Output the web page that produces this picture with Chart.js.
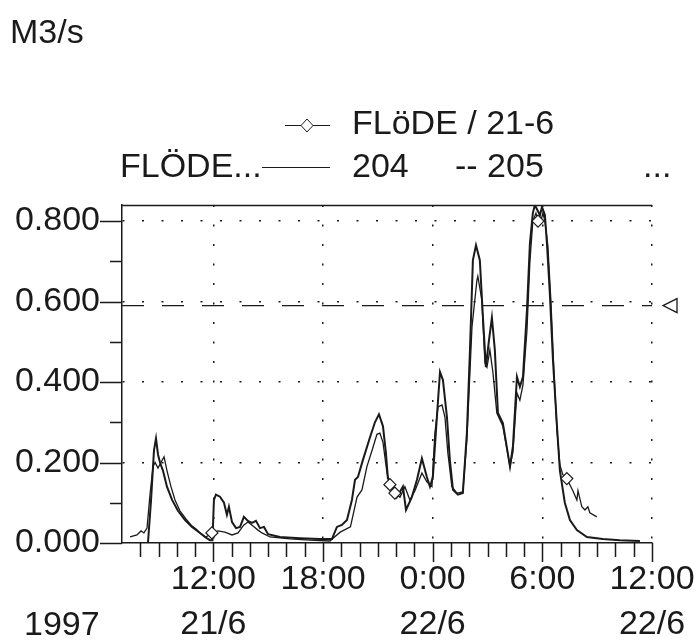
<!DOCTYPE html>
<html>
<head>
<meta charset="utf-8">
<script src="https://cdn.jsdelivr.net/npm/chart.js@4.4.1/dist/chart.umd.min.js"></script>
<style>
  body { margin: 0; background: #fff; }
  canvas { display: block; }
</style>
</head>
<body>
<canvas id="flow" width="700" height="643"></canvas>
<script>
// hours counted from 0:00 21/6 1997
const hoursD = [7.44, 7.82, 8.04, 8.20, 8.37, 8.53, 8.70, 8.81, 8.97, 9.13, 9.30, 9.46, 9.68, 9.90, 10.17, 10.50, 10.83, 11.05, 11.27, 11.60,
  11.92, 12.25, 12.63, 13.02, 13.35, 13.67, 13.89, 14.17, 14.44, 14.66, 15.10, 16.19, 17.28, 18.38, 18.55, 18.94, 19.50, 19.86, 20.13, 20.40,
  20.68, 20.95, 21.11, 21.28, 21.50, 21.66, 21.82, 21.93, 22.21, 22.48, 22.75, 23.03, 23.41, 23.68, 23.96, 24.12, 24.29, 24.51, 24.67, 24.83,
  25.05, 25.33, 25.65, 25.87, 26.15, 26.42, 26.47, 26.69, 26.86, 26.97, 27.13, 27.30, 27.51, 27.84, 28.23, 28.39, 28.61, 28.77, 28.94, 29.16,
  29.32, 29.48, 29.65, 29.76, 29.92, 30.03, 30.14, 30.30, 30.47, 30.63, 30.80, 30.96, 31.12, 31.34, 31.67, 31.89, 31.95, 32.16, 32.33, 32.49,
  32.60, 32.98];
const flowD = [0.015, 0.02, 0.03, 0.025, 0.037, 0.12, 0.19, 0.20, 0.186, 0.20, 0.214, 0.18, 0.14, 0.107, 0.08, 0.06, 0.042, 0.035, 0.025, 0.015,
  0.025, 0.03, 0.027, 0.02, 0.025, 0.045, 0.052, 0.042, 0.032, 0.025, 0.015, 0.01, 0.007, 0.005, 0.012, 0.027, 0.04, 0.114, 0.132, 0.19,
  0.23, 0.27, 0.273, 0.25, 0.174, 0.145, 0.14, 0.124, 0.114, 0.14, 0.107, 0.13, 0.174, 0.152, 0.14, 0.273, 0.338, 0.343, 0.313, 0.224,
  0.14, 0.124, 0.127, 0.256, 0.537, 0.653, 0.663, 0.604, 0.447, 0.437, 0.48, 0.422, 0.323, 0.29, 0.19, 0.226, 0.373, 0.355, 0.393, 0.53,
  0.70, 0.80, 0.82, 0.80, 0.80, 0.82, 0.80, 0.74, 0.60, 0.43, 0.28, 0.194, 0.17, 0.16, 0.13, 0.107, 0.13, 0.09, 0.082, 0.09,
  0.075, 0.065];
const diamondHours = [11.92, 21.66, 21.93, 29.76, 31.34];

const hours204 = [8.42, 8.59, 8.75, 8.86, 8.97, 9.08, 9.24, 9.46, 9.74, 10.06, 10.45, 10.83, 11.27, 11.54, 11.81, 11.95, 12.03, 12.14, 12.36, 12.58,
  12.74, 12.85, 13.02, 13.24, 13.46, 13.67, 13.89, 14.11, 14.33, 14.55, 14.77, 14.99, 15.64, 16.74, 17.83, 18.49, 18.76, 19.03, 19.31, 19.58,
  19.75, 19.91, 20.18, 20.57, 20.84, 21.06, 21.28, 21.44, 21.55, 21.77, 22.04, 22.37, 22.54, 22.86, 23.14, 23.41, 23.68, 23.85, 24.01, 24.23,
  24.40, 24.56, 24.78, 24.94, 25.11, 25.38, 25.65, 25.87, 26.04, 26.20, 26.37, 26.58, 26.75, 26.91, 27.08, 27.24, 27.40, 27.57, 27.84, 28.23,
  28.39, 28.61, 28.77, 28.94, 29.16, 29.32, 29.48, 29.59, 29.70, 29.87, 29.98, 30.14, 30.25, 30.41, 30.58, 30.80, 30.96, 31.23, 31.51, 31.89,
  32.44, 33.31, 34.24, 35.34];
const flow204 = [0, 0.107, 0.23, 0.26, 0.22, 0.20, 0.18, 0.14, 0.107, 0.08, 0.057, 0.04, 0.025, 0.015, 0.007, 0.007, 0.107, 0.12, 0.115, 0.10,
  0.07, 0.09, 0.052, 0.037, 0.04, 0.065, 0.055, 0.05, 0.055, 0.037, 0.04, 0.022, 0.015, 0.012, 0.01, 0.01, 0.04, 0.045, 0.057, 0.107,
  0.157, 0.164, 0.206, 0.263, 0.30, 0.32, 0.29, 0.224, 0.16, 0.15, 0.114, 0.14, 0.082, 0.114, 0.157, 0.21, 0.164, 0.14, 0.164, 0.313,
  0.425, 0.405, 0.313, 0.206, 0.132, 0.12, 0.124, 0.273, 0.48, 0.703, 0.74, 0.703, 0.56, 0.437, 0.504, 0.56, 0.48, 0.323, 0.298, 0.19,
  0.24, 0.413, 0.388, 0.413, 0.58, 0.745, 0.82, 0.84, 0.83, 0.815, 0.835, 0.815, 0.745, 0.62, 0.455, 0.29, 0.18, 0.10, 0.057, 0.032,
  0.015, 0.01, 0.007, 0.005];

const level205 = 0.59;
const timeRange = [7, 36];

const tickHours = [12, 18, 24, 30, 36];
const tickTimes = ["12:00", "18:00", "0:00", "6:00", "12:00"];
const tickDates = ["21/6", "", "22/6", "", "22/6"];

const FONT = "Liberation Sans, Arial, sans-serif";
const INK = "#1a1a1a";

const toPoints = (xs, ys) => xs.map((h, i) => ({ x: h, y: ys[i] }));

// axis tick marks, border, legend and the loose texts of the plot
const decor = {
  id: "decor",
  afterDraw(chart) {
    const { ctx, chartArea: a, scales } = chart;
    const x = scales.x, y = scales.y;
    ctx.save();
    ctx.strokeStyle = INK;
    ctx.lineWidth = 1.5;
    ctx.beginPath();
    for (let i = 0; i <= 8; i++) {
      const py = Math.round(y.getPixelForValue(i / 10)) + 0.5;
      ctx.moveTo(a.left - (i % 2 === 0 ? 22 : 12), py);
      ctx.lineTo(a.left, py);
    }
    for (let h = timeRange[0] + 1; h <= timeRange[1]; h++) {
      const px = Math.round(x.getPixelForValue(h)) + 0.5;
      ctx.moveTo(px, a.bottom);
      ctx.lineTo(px, a.bottom + (h % 6 === 0 ? 19 : 14));
    }
    // top frame
    ctx.moveTo(a.left, a.top + 0.5);
    ctx.lineTo(a.right, a.top + 0.5);
    ctx.stroke();

    // level marker on the right
    const ly = y.getPixelForValue(level205);
    ctx.lineWidth = 1.3;
    ctx.beginPath();
    ctx.moveTo(a.right + 11, ly);
    ctx.lineTo(a.right + 25, ly - 7);
    ctx.lineTo(a.right + 25, ly + 7);
    ctx.closePath();
    ctx.stroke();

    ctx.fillStyle = INK;
    ctx.font = "34px " + FONT;
    ctx.textBaseline = "middle";
    ctx.textAlign = "left";
    ctx.fillText("M3/s", 10, 34);
    ctx.fillText("1997", 24, 626);

    // legend
    const ds = chart.data.datasets;
    ctx.lineWidth = 1;
    ctx.beginPath();
    ctx.moveTo(285, 125.5); ctx.lineTo(330, 125.5);
    ctx.moveTo(262, 167.5); ctx.lineTo(330, 167.5);
    ctx.stroke();
    ctx.fillStyle = "#fff";
    ctx.beginPath();
    ctx.moveTo(307, 119); ctx.lineTo(313, 125.5); ctx.lineTo(307, 132); ctx.lineTo(301, 125.5);
    ctx.closePath();
    ctx.fill();
    ctx.stroke();
    ctx.fillStyle = INK;
    ctx.fillText(ds[0].label, 352, 125);
    ctx.fillText("FLÖDE...", 120, 168);
    ctx.fillText(ds[1].label, 352, 168);
    ctx.fillText("-- " + ds[2].label, 455, 168);
    ctx.fillText("...", 643, 168);
    ctx.restore();
  }
};

new Chart(document.getElementById("flow"), {
  type: "line",
  data: {
    datasets: [
      {
        label: "FLöDE / 21-6",
        data: toPoints(hoursD, flowD),
        borderColor: INK,
        borderWidth: 1.3,
        pointStyle: "rectRot",
        pointRadius: (c) => (diamondHours.includes(hoursD[c.dataIndex]) ? 6 : 0),
        pointBackgroundColor: "#fff",
        pointBorderColor: INK,
        pointBorderWidth: 1.2,
        tension: 0,
      },
      {
        label: "204",
        data: toPoints(hours204, flow204),
        borderColor: INK,
        borderWidth: 2,
        pointRadius: 0,
        tension: 0,
      },
      {
        label: "205",
        data: toPoints(timeRange, [level205, level205]),
        borderColor: INK,
        borderWidth: 1.3,
        borderDash: [22, 18],
        pointRadius: 0,
      },
    ],
  },
  options: {
    responsive: false,
    animation: false,
    devicePixelRatio: 1,
    layout: { padding: { top: 205, right: 48, left: 0, bottom: 0 } },
    plugins: { legend: { display: false }, tooltip: { enabled: false } },
    scales: {
      x: {
        type: "linear",
        min: timeRange[0],
        max: timeRange[1],
        afterFit: (s) => { s.height = 100; s.paddingLeft = 0; s.paddingRight = 0; },
        ticks: {
          stepSize: 1,
          autoSkip: false,
          maxRotation: 0,
          includeBounds: false,
          padding: 14,
          color: INK,
          font: { family: FONT, size: 34, lineHeight: 1.32 },
          callback: (v) => {
            const i = tickHours.indexOf(v);
            if (i < 0) return "";
            return tickDates[i] ? [tickTimes[i], tickDates[i]] : tickTimes[i];
          },
        },
        grid: {
          drawTicks: false,
          color: (c) => (c.tick && c.tick.value % 6 === 0 ? INK : "transparent"),
          lineWidth: 1.5,
        },
        border: { display: true, color: INK, width: 1.5, dash: [2, 17.5] },
      },
      y: {
        min: 0,
        max: 0.84,
        afterFit: (s) => { s.width = 122; s.paddingTop = 0; s.paddingBottom = 0; },
        ticks: {
          stepSize: 0.1,
          includeBounds: false,
          padding: 22,
          color: INK,
          font: { family: FONT, size: 34 },
          callback: (v) => (Math.round(v * 10) % 2 === 0 ? v.toFixed(3) : ""),
        },
        grid: {
          drawTicks: false,
          color: (c) => {
            const v = c.tick ? Math.round(c.tick.value * 10) : 0;
            return v > 0 && v % 2 === 0 ? INK : "transparent";
          },
          lineWidth: 1.5,
        },
        border: { display: true, color: INK, width: 1.5, dash: [2, 17.5] },
      },
    },
  },
  plugins: [decor],
});
</script>
</body>
</html>
